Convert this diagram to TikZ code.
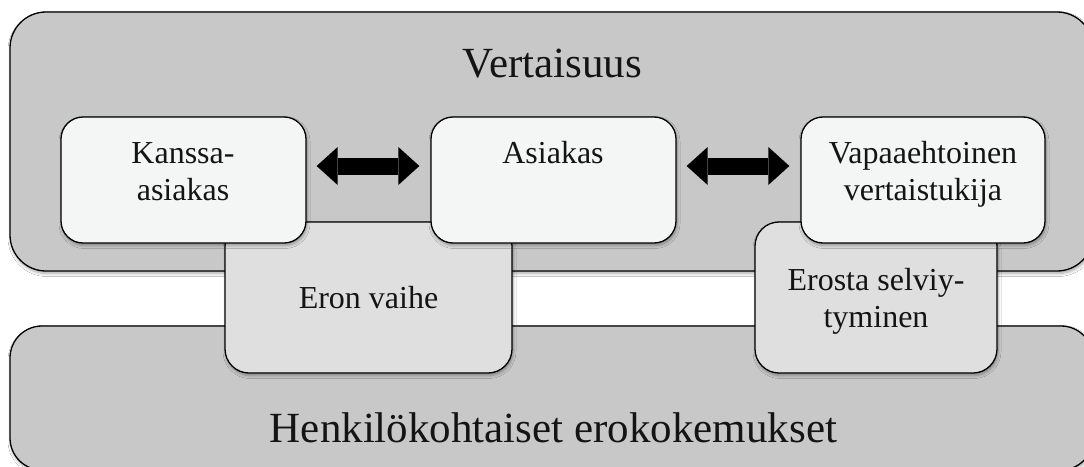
\documentclass[tikz,border=0pt]{standalone}
\usepackage{fontspec}
\setmainfont{Liberation Serif}
\usetikzlibrary{arrows.meta,shadows.blur}
\definecolor{bigfill}{HTML}{C8C8C8}
\definecolor{topfill}{HTML}{F4F5F5}
\definecolor{midfill}{HTML}{DFDFDF}
\tikzset{
  boxbase/.style={rectangle, draw=black, line width=1.3pt, inner sep=0pt,
    blur shadow={shadow xshift=1pt, shadow yshift=-2.5pt, shadow blur steps=6, shadow opacity=35, shadow blur radius=3pt}},
  bigbox/.style={boxbase, fill=bigfill, rounded corners=36pt},
  topbox/.style={boxbase, fill=topfill, rounded corners=22pt, minimum width=245pt, minimum height=126pt},
  midbox/.style={boxbase, fill=midfill, rounded corners=24pt, minimum height=151pt},
  bigtxt/.style={inner sep=0pt, font=\fontsize{43}{51}\selectfont, text=black!92},
  smalltxt/.style={inner sep=0pt, align=center, font=\fontsize{32}{37}\selectfont, text=black!92},
  bigarrow/.style={line width=17pt, black,
    {Triangle[length=21pt, width=38pt, line width=0pt]}-{Triangle[length=21pt, width=38pt, line width=0pt]},
    shorten <=10pt, shorten >=11pt}
}
\begin{document}
\begin{tikzpicture}[x=1pt, y=-1pt]
\useasboundingbox (0,0) rectangle (1084,466);
\clip (0,0) rectangle (1084,466);
\fill[white] (0,0) rectangle (1084,466);
% big boxes
\node[bigbox, minimum width=1083pt, minimum height=259pt] (top) at (551.5,141.5) {};
\node[bigbox, rounded corners=32pt, minimum width=1083pt, minimum height=144pt] (bot) at (551.5,398) {};
% middle boxes
\node[midbox, minimum width=287pt] (e) at (368.5,297.5) {};
\node[midbox, minimum width=242pt] (s) at (876,297.5) {};
% top boxes
\node[topbox] (k) at (183.5,180) {};
\node[topbox] (a) at (553.5,180) {};
\node[topbox, minimum width=244pt] (v) at (923,180) {};
% texts (base anchor = baseline of last line)
\node[bigtxt, anchor=base] (vt) at (552.5,77) {Vertaisuus};
\node[bigtxt, anchor=base] (ht) at (553.5,442) {Henkilökohtaiset erokokemukset};
\node[smalltxt, anchor=base] (kt) at (183,200) {Kanssa-\\asiakas};
\node[smalltxt, anchor=base] (at) at (553,163) {Asiakas};
\node[smalltxt, anchor=base] (vtt) at (923,200) {Vapaaehtoinen\\vertaistukija};
\node[smalltxt, anchor=base] (et) at (368.5,308) {Eron vaihe};
\node[smalltxt, anchor=base] (st) at (876,327) {Erosta selviy-\\tyminen};
% arrows
\draw[bigarrow] ([yshift=14pt]k.east) -- ([yshift=14pt]a.west);
\draw[bigarrow] ([yshift=14pt]a.east) -- ([yshift=14pt]v.west);
\end{tikzpicture}
\end{document}
